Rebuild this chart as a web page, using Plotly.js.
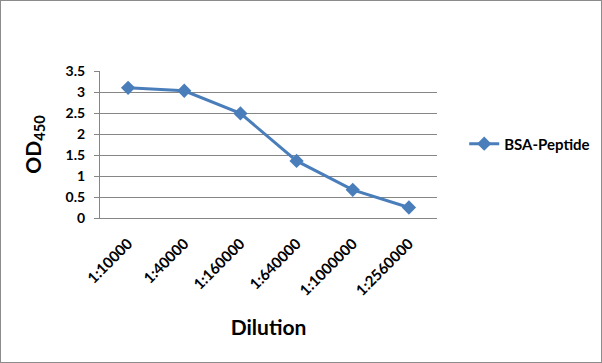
<!DOCTYPE html>
<html><head>
<script src="https://cdn.plot.ly/plotly-3.0.1.min.js"></script>
<style>
html,body{margin:0;padding:0;background:#fff;}
#chart{width:602px;height:363px;box-sizing:border-box;border:1px solid #8c8c8c;}
</style>
</head><body>
<div id="chart"></div>
<script>
var categories = ["1:10000","1:40000","1:160000","1:640000","1:1000000","1:2560000"];
var odValues = [3.10, 3.03, 2.49, 1.36, 0.67, 0.25];
var seriesName = "BSA-Peptide";
var yTicks = [0, 0.5, 1, 1.5, 2, 2.5, 3, 3.5];
var yTickLabels = ["0","0.5","1","1.5","2","2.5","3","3.5"];

var font = "Lato, 'Open Sans', sans-serif";
var trace = {
  x: categories, y: odValues, name: seriesName, type: "scatter", mode: "lines+markers",
  line: {color: "#4A7EBB", width: 3},
  marker: {symbol: "diamond", size: 11, color: "#4A7EBB"}
};
var layout = {
  width: 600, height: 361,
  margin: {l: 99, r: 164, t: 70, b: 144},
  paper_bgcolor: "#fff", plot_bgcolor: "#fff",
  font: {family: font, size: 14, color: "#000"},
  showlegend: true,
  legend: {xref: "container", yref: "container", x: 0.772, y: 0.604, xanchor: "left", yanchor: "middle",
           font: {family: font, size: 15, weight: "bold"}},
  xaxis: {
    type: "category", range: [-0.5, 5.5], tickangle: -45,
    showgrid: false, showline: true, linecolor: "#868686", linewidth: 1,
    ticks: "", ticklabelstandoff: 10, tickfont: {family: font, size: 15, weight: "bold"},
    title: {text: "Dilution", font: {family: font, size: 21, weight: "bold"}, standoff: 22}
  },
  yaxis: {
    range: [0, 3.5], tickvals: yTicks, ticktext: yTickLabels,
    showgrid: true, gridcolor: "#868686", gridwidth: 1,
    showline: true, linecolor: "#868686", linewidth: 1,
    ticks: "outside", ticklen: 5, tickcolor: "#868686", ticklabelstandoff: 6,
    zeroline: false, tickfont: {family: font, size: 14, weight: "bold"},
    title: {text: "OD<sub>450</sub>", font: {family: font, size: 21, weight: "bold"}, standoff: 18}
  }
};
Plotly.newPlot("chart", [trace], layout, {displayModeBar: false, staticPlot: true});
</script>
</body></html>
